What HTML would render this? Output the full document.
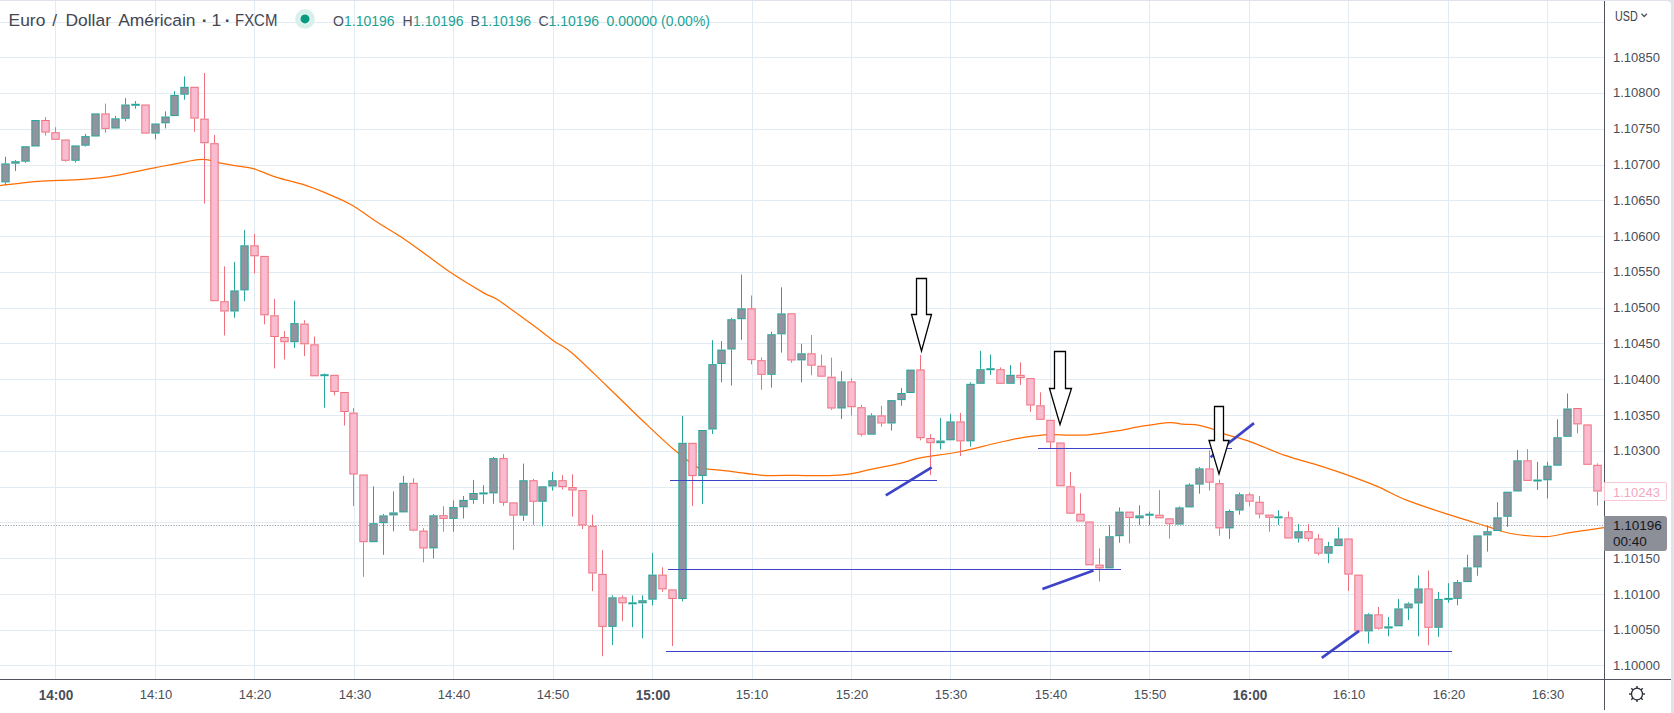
<!DOCTYPE html>
<html><head><meta charset="utf-8">
<style>
html,body{margin:0;padding:0;}
body{width:1674px;height:713px;overflow:hidden;background:#e0e3eb;position:relative;font-family:"Liberation Sans",sans-serif;}
#frame{position:absolute;left:0;top:1px;width:1671px;height:712px;background:#fff;border-top-right-radius:4px;overflow:hidden;}
svg{position:absolute;left:0;top:0;}
.pl{position:absolute;left:1613px;width:60px;font-size:13.7px;transform:scaleX(0.95);transform-origin:0 0;line-height:16px;color:#4a4e59;white-space:pre;}
.tl{position:absolute;top:686.8px;width:60px;text-align:center;font-size:13.7px;transform:scaleX(0.95);line-height:16px;color:#4a4e59;white-space:pre;}
.tl.b{font-weight:bold;font-size:14px;transform:scaleX(0.97);}
.hdr{position:absolute;white-space:pre;}
.t{top:10px;font-size:17.4px;line-height:20px;color:#434651;}
</style></head><body>
<div id="frame"></div>
<svg width="1674" height="713" viewBox="0 0 1674 713" shape-rendering="auto">
<rect x="55" y="1" width="1" height="678" fill="#e3ebf2"/>
<rect x="155" y="1" width="1" height="678" fill="#e3ebf2"/>
<rect x="254" y="1" width="1" height="678" fill="#e3ebf2"/>
<rect x="354" y="1" width="1" height="678" fill="#e3ebf2"/>
<rect x="453" y="1" width="1" height="678" fill="#e3ebf2"/>
<rect x="553" y="1" width="1" height="678" fill="#e3ebf2"/>
<rect x="652" y="1" width="1" height="678" fill="#e3ebf2"/>
<rect x="752" y="1" width="1" height="678" fill="#e3ebf2"/>
<rect x="851" y="1" width="1" height="678" fill="#e3ebf2"/>
<rect x="950" y="1" width="1" height="678" fill="#e3ebf2"/>
<rect x="1050" y="1" width="1" height="678" fill="#e3ebf2"/>
<rect x="1149" y="1" width="1" height="678" fill="#e3ebf2"/>
<rect x="1249" y="1" width="1" height="678" fill="#e3ebf2"/>
<rect x="1348" y="1" width="1" height="678" fill="#e3ebf2"/>
<rect x="1448" y="1" width="1" height="678" fill="#e3ebf2"/>
<rect x="1547" y="1" width="1" height="678" fill="#e3ebf2"/>
<rect x="0" y="22" width="1604" height="1" fill="#e3ebf2"/>
<rect x="0" y="57" width="1604" height="1" fill="#e3ebf2"/>
<rect x="0" y="93" width="1604" height="1" fill="#e3ebf2"/>
<rect x="0" y="129" width="1604" height="1" fill="#e3ebf2"/>
<rect x="0" y="165" width="1604" height="1" fill="#e3ebf2"/>
<rect x="0" y="200" width="1604" height="1" fill="#e3ebf2"/>
<rect x="0" y="236" width="1604" height="1" fill="#e3ebf2"/>
<rect x="0" y="272" width="1604" height="1" fill="#e3ebf2"/>
<rect x="0" y="308" width="1604" height="1" fill="#e3ebf2"/>
<rect x="0" y="343" width="1604" height="1" fill="#e3ebf2"/>
<rect x="0" y="379" width="1604" height="1" fill="#e3ebf2"/>
<rect x="0" y="415" width="1604" height="1" fill="#e3ebf2"/>
<rect x="0" y="451" width="1604" height="1" fill="#e3ebf2"/>
<rect x="0" y="487" width="1604" height="1" fill="#e3ebf2"/>
<rect x="0" y="522" width="1604" height="1" fill="#e3ebf2"/>
<rect x="0" y="558" width="1604" height="1" fill="#e3ebf2"/>
<rect x="0" y="594" width="1604" height="1" fill="#e3ebf2"/>
<rect x="0" y="630" width="1604" height="1" fill="#e3ebf2"/>
<rect x="0" y="665" width="1604" height="1" fill="#e3ebf2"/>
<line x1="0" y1="525.5" x2="1604" y2="525.5" stroke="#9598a1" stroke-width="1" stroke-dasharray="1 1.67"/>
<path d="M0.0,185.7 C6.3,185.0 23.8,182.4 37.6,181.4 C51.4,180.4 69.8,180.4 82.8,179.4 C95.8,178.4 103.3,177.6 115.4,175.6 C127.5,173.6 143.8,169.9 155.5,167.6 C167.2,165.3 177.6,163.2 185.6,161.8 C193.6,160.4 197.8,159.1 203.7,159.3 C209.6,159.5 215.0,162.0 220.8,163.1 C226.6,164.2 232.9,165.2 238.3,166.1 C243.7,167.0 247.1,166.8 253.4,168.6 C259.7,170.4 267.6,174.4 276.0,177.1 C284.4,179.8 295.2,182.0 303.6,184.7 C312.0,187.4 318.2,189.9 326.1,193.2 C334.0,196.5 342.8,200.0 351.2,204.7 C359.6,209.4 368.2,216.2 376.3,221.5 C384.4,226.8 392.6,231.4 400.0,236.3 C407.4,241.2 412.2,244.8 421.0,251.0 C429.8,257.2 442.1,266.8 452.6,273.8 C463.1,280.8 476.5,288.7 484.1,293.1 C491.7,297.5 489.9,294.7 498.1,300.1 C506.3,305.5 524.1,318.6 533.2,325.3 C542.4,332.0 546.6,335.9 553.0,340.5 C559.4,345.1 562.7,345.1 571.7,352.7 C580.7,360.3 595.1,374.8 606.8,386.0 C618.5,397.2 630.8,409.5 641.9,420.0 C653.0,430.5 664.1,441.2 673.4,449.1 C682.7,457.0 692.4,464.3 697.9,467.6 C703.4,470.9 700.8,468.1 706.5,468.8 C712.2,469.5 723.0,470.5 732.3,471.6 C741.6,472.7 751.6,474.7 762.4,475.3 C773.1,475.9 785.7,475.2 796.8,475.3 C807.9,475.4 820.0,475.9 829.0,475.7 C838.0,475.4 843.3,474.9 850.5,473.8 C857.7,472.7 863.8,470.9 872.0,469.2 C880.2,467.5 891.8,465.3 900.0,463.4 C908.2,461.5 911.8,459.5 921.5,457.6 C931.2,455.7 945.6,454.4 958.1,452.0 C970.6,449.6 986.0,445.4 996.8,443.0 C1007.5,440.6 1014.7,439.0 1022.6,437.6 C1030.5,436.2 1039.0,435.3 1044.1,434.8 C1049.2,434.3 1048.1,434.6 1053.3,434.6 C1058.5,434.7 1069.2,435.1 1075.1,435.1 C1081.0,435.1 1081.5,435.5 1088.5,434.8 C1095.5,434.1 1108.0,432.3 1116.9,430.9 C1125.8,429.5 1133.2,427.6 1142.0,426.2 C1150.8,424.8 1162.9,422.9 1169.6,422.6 C1176.3,422.3 1177.8,423.9 1182.1,424.2 C1186.4,424.5 1190.8,424.0 1195.5,424.7 C1200.2,425.4 1205.6,426.8 1210.6,428.4 C1215.6,430.0 1218.9,432.1 1225.6,434.3 C1232.3,436.5 1240.9,438.3 1250.7,441.8 C1260.5,445.3 1272.7,451.2 1284.2,455.2 C1295.8,459.2 1309.4,462.6 1320.0,465.9 C1330.6,469.2 1338.2,471.7 1347.7,475.1 C1357.2,478.5 1367.4,482.2 1377.2,486.4 C1387.0,490.6 1394.8,495.5 1406.6,500.2 C1418.4,504.9 1434.9,510.1 1448.2,514.4 C1461.5,518.7 1475.9,523.0 1486.3,526.2 C1496.7,529.4 1500.8,531.8 1510.6,533.5 C1520.4,535.2 1535.1,536.8 1545.2,536.6 C1555.3,536.4 1561.4,533.8 1571.2,532.3 C1581.0,530.8 1598.6,528.4 1604.1,527.6" fill="none" stroke="#ff6d00" stroke-width="1.25" stroke-linejoin="round"/>
<rect x="5.00" y="156.6" width="1" height="6.8" fill="#26a69a"/>
<rect x="5.00" y="182.4" width="1" height="2.8" fill="#26a69a"/>
<rect x="1.30" y="163.4" width="8.4" height="19.0" fill="#26a69a"/>
<rect x="2.30" y="164.4" width="6.4" height="17.0" fill="#92939e"/>
<rect x="15.00" y="160.0" width="1" height="1.2" fill="#26a69a"/>
<rect x="15.00" y="163.7" width="1" height="7.3" fill="#26a69a"/>
<rect x="11.30" y="161.2" width="8.4" height="2.5" fill="#26a69a"/>
<rect x="12.30" y="162.2" width="6.4" height="0.5" fill="#92939e"/>
<rect x="25.00" y="161.7" width="1" height="1.2" fill="#26a69a"/>
<rect x="21.30" y="146.2" width="8.4" height="15.5" fill="#26a69a"/>
<rect x="22.30" y="147.2" width="6.4" height="13.5" fill="#92939e"/>
<rect x="31.30" y="120.0" width="8.4" height="26.5" fill="#26a69a"/>
<rect x="32.30" y="121.0" width="6.4" height="24.5" fill="#92939e"/>
<rect x="45.00" y="117.1" width="1" height="2.9" fill="#ef6f7c"/>
<rect x="45.00" y="132.6" width="1" height="3.0" fill="#ef6f7c"/>
<rect x="41.30" y="120.0" width="8.4" height="12.6" fill="#ef6f7c"/>
<rect x="42.30" y="121.0" width="6.4" height="10.6" fill="#f8bbd0"/>
<rect x="55.00" y="127.2" width="1" height="5.0" fill="#ef6f7c"/>
<rect x="51.30" y="132.2" width="8.4" height="7.6" fill="#ef6f7c"/>
<rect x="52.30" y="133.2" width="6.4" height="5.6" fill="#f8bbd0"/>
<rect x="65.00" y="160.8" width="1" height="0.9" fill="#ef6f7c"/>
<rect x="61.30" y="139.5" width="8.4" height="21.3" fill="#ef6f7c"/>
<rect x="62.30" y="140.5" width="6.4" height="19.3" fill="#f8bbd0"/>
<rect x="75.00" y="160.8" width="1" height="1.7" fill="#26a69a"/>
<rect x="71.30" y="145.4" width="8.4" height="15.4" fill="#26a69a"/>
<rect x="72.30" y="146.4" width="6.4" height="13.4" fill="#92939e"/>
<rect x="85.00" y="133.9" width="1" height="2.2" fill="#26a69a"/>
<rect x="85.00" y="145.7" width="1" height="0.8" fill="#26a69a"/>
<rect x="81.30" y="136.1" width="8.4" height="9.6" fill="#26a69a"/>
<rect x="82.30" y="137.1" width="6.4" height="7.6" fill="#92939e"/>
<rect x="91.30" y="113.4" width="8.4" height="23.1" fill="#26a69a"/>
<rect x="92.30" y="114.4" width="6.4" height="21.1" fill="#92939e"/>
<rect x="105.00" y="103.6" width="1" height="9.8" fill="#ef6f7c"/>
<rect x="105.00" y="128.9" width="1" height="3.9" fill="#ef6f7c"/>
<rect x="101.30" y="113.4" width="8.4" height="15.5" fill="#ef6f7c"/>
<rect x="102.30" y="114.4" width="6.4" height="13.5" fill="#f8bbd0"/>
<rect x="115.00" y="115.9" width="1" height="2.4" fill="#26a69a"/>
<rect x="111.30" y="118.3" width="8.4" height="10.2" fill="#26a69a"/>
<rect x="112.30" y="119.3" width="6.4" height="8.2" fill="#92939e"/>
<rect x="125.00" y="98.1" width="1" height="6.4" fill="#26a69a"/>
<rect x="125.00" y="118.8" width="1" height="2.5" fill="#26a69a"/>
<rect x="121.30" y="104.5" width="8.4" height="14.3" fill="#26a69a"/>
<rect x="122.30" y="105.5" width="6.4" height="12.3" fill="#92939e"/>
<rect x="135.00" y="101.1" width="1" height="2.7" fill="#26a69a"/>
<rect x="135.00" y="105.8" width="1" height="2.9" fill="#26a69a"/>
<rect x="131.30" y="103.8" width="8.4" height="2.0" fill="#26a69a"/>
<rect x="141.30" y="104.5" width="8.4" height="29.1" fill="#ef6f7c"/>
<rect x="142.30" y="105.5" width="6.4" height="27.1" fill="#f8bbd0"/>
<rect x="155.00" y="133.6" width="1" height="5.7" fill="#26a69a"/>
<rect x="151.30" y="123.5" width="8.4" height="10.1" fill="#26a69a"/>
<rect x="152.30" y="124.5" width="6.4" height="8.1" fill="#92939e"/>
<rect x="165.00" y="111.4" width="1" height="5.1" fill="#26a69a"/>
<rect x="165.00" y="123.3" width="1" height="5.1" fill="#26a69a"/>
<rect x="161.30" y="116.5" width="8.4" height="6.8" fill="#26a69a"/>
<rect x="162.30" y="117.5" width="6.4" height="4.8" fill="#92939e"/>
<rect x="174.00" y="91.1" width="1" height="3.8" fill="#26a69a"/>
<rect x="170.30" y="94.9" width="8.4" height="21.2" fill="#26a69a"/>
<rect x="171.30" y="95.9" width="6.4" height="19.2" fill="#92939e"/>
<rect x="184.00" y="76.4" width="1" height="10.4" fill="#26a69a"/>
<rect x="184.00" y="94.7" width="1" height="5.0" fill="#26a69a"/>
<rect x="180.30" y="86.8" width="8.4" height="7.9" fill="#26a69a"/>
<rect x="181.30" y="87.8" width="6.4" height="5.9" fill="#92939e"/>
<rect x="194.00" y="118.6" width="1" height="13.1" fill="#ef6f7c"/>
<rect x="190.30" y="86.8" width="8.4" height="31.8" fill="#ef6f7c"/>
<rect x="191.30" y="87.8" width="6.4" height="29.8" fill="#f8bbd0"/>
<rect x="204.00" y="73.0" width="1" height="45.6" fill="#ef6f7c"/>
<rect x="204.00" y="143.2" width="1" height="60.2" fill="#ef6f7c"/>
<rect x="200.30" y="118.6" width="8.4" height="24.6" fill="#ef6f7c"/>
<rect x="201.30" y="119.6" width="6.4" height="22.6" fill="#f8bbd0"/>
<rect x="214.00" y="135.0" width="1" height="8.2" fill="#ef6f7c"/>
<rect x="210.30" y="143.2" width="8.4" height="158.0" fill="#ef6f7c"/>
<rect x="211.30" y="144.2" width="6.4" height="156.0" fill="#f8bbd0"/>
<rect x="224.00" y="266.4" width="1" height="34.8" fill="#ef6f7c"/>
<rect x="224.00" y="311.5" width="1" height="24.0" fill="#ef6f7c"/>
<rect x="220.30" y="301.2" width="8.4" height="10.3" fill="#ef6f7c"/>
<rect x="221.30" y="302.2" width="6.4" height="8.3" fill="#f8bbd0"/>
<rect x="234.00" y="261.9" width="1" height="28.5" fill="#26a69a"/>
<rect x="234.00" y="311.5" width="1" height="6.3" fill="#26a69a"/>
<rect x="230.30" y="290.4" width="8.4" height="21.1" fill="#26a69a"/>
<rect x="231.30" y="291.4" width="6.4" height="19.1" fill="#92939e"/>
<rect x="244.00" y="230.1" width="1" height="15.2" fill="#26a69a"/>
<rect x="244.00" y="290.4" width="1" height="10.8" fill="#26a69a"/>
<rect x="240.30" y="245.3" width="8.4" height="45.1" fill="#26a69a"/>
<rect x="241.30" y="246.3" width="6.4" height="43.1" fill="#92939e"/>
<rect x="254.00" y="233.9" width="1" height="11.4" fill="#ef6f7c"/>
<rect x="254.00" y="256.3" width="1" height="17.1" fill="#ef6f7c"/>
<rect x="250.30" y="245.3" width="8.4" height="11.0" fill="#ef6f7c"/>
<rect x="251.30" y="246.3" width="6.4" height="9.0" fill="#f8bbd0"/>
<rect x="264.00" y="315.3" width="1" height="9.0" fill="#ef6f7c"/>
<rect x="260.30" y="255.9" width="8.4" height="59.4" fill="#ef6f7c"/>
<rect x="261.30" y="256.9" width="6.4" height="57.4" fill="#f8bbd0"/>
<rect x="274.00" y="298.9" width="1" height="16.4" fill="#ef6f7c"/>
<rect x="274.00" y="337.0" width="1" height="31.4" fill="#ef6f7c"/>
<rect x="270.30" y="315.3" width="8.4" height="21.7" fill="#ef6f7c"/>
<rect x="271.30" y="316.3" width="6.4" height="19.7" fill="#f8bbd0"/>
<rect x="284.00" y="331.0" width="1" height="6.0" fill="#ef6f7c"/>
<rect x="284.00" y="342.2" width="1" height="17.3" fill="#ef6f7c"/>
<rect x="280.30" y="337.0" width="8.4" height="5.2" fill="#ef6f7c"/>
<rect x="281.30" y="338.0" width="6.4" height="3.2" fill="#f8bbd0"/>
<rect x="294.00" y="300.7" width="1" height="22.4" fill="#26a69a"/>
<rect x="294.00" y="342.2" width="1" height="5.6" fill="#26a69a"/>
<rect x="290.30" y="323.1" width="8.4" height="19.1" fill="#26a69a"/>
<rect x="291.30" y="324.1" width="6.4" height="17.1" fill="#92939e"/>
<rect x="304.00" y="320.3" width="1" height="3.3" fill="#ef6f7c"/>
<rect x="304.00" y="344.3" width="1" height="11.8" fill="#ef6f7c"/>
<rect x="300.30" y="323.6" width="8.4" height="20.7" fill="#ef6f7c"/>
<rect x="301.30" y="324.6" width="6.4" height="18.7" fill="#f8bbd0"/>
<rect x="314.00" y="336.6" width="1" height="7.7" fill="#ef6f7c"/>
<rect x="310.30" y="344.3" width="8.4" height="32.0" fill="#ef6f7c"/>
<rect x="311.30" y="345.3" width="6.4" height="30.0" fill="#f8bbd0"/>
<rect x="324.00" y="373.4" width="1" height="0.8" fill="#26a69a"/>
<rect x="324.00" y="376.2" width="1" height="31.5" fill="#26a69a"/>
<rect x="320.30" y="374.2" width="8.4" height="2.0" fill="#26a69a"/>
<rect x="334.00" y="392.0" width="1" height="3.4" fill="#ef6f7c"/>
<rect x="330.30" y="374.8" width="8.4" height="17.2" fill="#ef6f7c"/>
<rect x="331.30" y="375.8" width="6.4" height="15.2" fill="#f8bbd0"/>
<rect x="344.00" y="412.0" width="1" height="13.5" fill="#ef6f7c"/>
<rect x="340.30" y="392.0" width="8.4" height="20.0" fill="#ef6f7c"/>
<rect x="341.30" y="393.0" width="6.4" height="18.0" fill="#f8bbd0"/>
<rect x="353.00" y="408.1" width="1" height="4.5" fill="#ef6f7c"/>
<rect x="353.00" y="474.5" width="1" height="31.5" fill="#ef6f7c"/>
<rect x="349.30" y="412.6" width="8.4" height="61.9" fill="#ef6f7c"/>
<rect x="350.30" y="413.6" width="6.4" height="59.9" fill="#f8bbd0"/>
<rect x="363.00" y="542.2" width="1" height="34.6" fill="#ef6f7c"/>
<rect x="359.30" y="474.5" width="8.4" height="67.7" fill="#ef6f7c"/>
<rect x="360.30" y="475.5" width="6.4" height="65.7" fill="#f8bbd0"/>
<rect x="373.00" y="486.4" width="1" height="36.8" fill="#26a69a"/>
<rect x="369.30" y="523.2" width="8.4" height="19.0" fill="#26a69a"/>
<rect x="370.30" y="524.2" width="6.4" height="17.0" fill="#92939e"/>
<rect x="383.00" y="514.0" width="1" height="1.4" fill="#26a69a"/>
<rect x="383.00" y="523.2" width="1" height="31.6" fill="#26a69a"/>
<rect x="379.30" y="515.4" width="8.4" height="7.8" fill="#26a69a"/>
<rect x="380.30" y="516.4" width="6.4" height="5.8" fill="#92939e"/>
<rect x="393.00" y="491.4" width="1" height="21.0" fill="#26a69a"/>
<rect x="393.00" y="515.4" width="1" height="15.9" fill="#26a69a"/>
<rect x="389.30" y="512.4" width="8.4" height="3.0" fill="#26a69a"/>
<rect x="390.30" y="513.4" width="6.4" height="1.0" fill="#92939e"/>
<rect x="403.00" y="475.8" width="1" height="7.0" fill="#26a69a"/>
<rect x="399.30" y="482.8" width="8.4" height="29.6" fill="#26a69a"/>
<rect x="400.30" y="483.8" width="6.4" height="27.6" fill="#92939e"/>
<rect x="413.00" y="478.3" width="1" height="4.5" fill="#ef6f7c"/>
<rect x="413.00" y="530.6" width="1" height="0.7" fill="#ef6f7c"/>
<rect x="409.30" y="482.8" width="8.4" height="47.8" fill="#ef6f7c"/>
<rect x="410.30" y="483.8" width="6.4" height="45.8" fill="#f8bbd0"/>
<rect x="423.00" y="528.3" width="1" height="2.3" fill="#ef6f7c"/>
<rect x="423.00" y="548.5" width="1" height="13.9" fill="#ef6f7c"/>
<rect x="419.30" y="530.6" width="8.4" height="17.9" fill="#ef6f7c"/>
<rect x="420.30" y="531.6" width="6.4" height="15.9" fill="#f8bbd0"/>
<rect x="433.00" y="514.0" width="1" height="1.3" fill="#26a69a"/>
<rect x="433.00" y="548.4" width="1" height="10.1" fill="#26a69a"/>
<rect x="429.30" y="515.3" width="8.4" height="33.1" fill="#26a69a"/>
<rect x="430.30" y="516.3" width="6.4" height="31.1" fill="#92939e"/>
<rect x="443.00" y="506.2" width="1" height="9.0" fill="#ef6f7c"/>
<rect x="443.00" y="518.9" width="1" height="12.8" fill="#ef6f7c"/>
<rect x="439.30" y="515.2" width="8.4" height="3.7" fill="#ef6f7c"/>
<rect x="440.30" y="516.2" width="6.4" height="1.7" fill="#f8bbd0"/>
<rect x="453.00" y="500.5" width="1" height="6.6" fill="#26a69a"/>
<rect x="453.00" y="518.9" width="1" height="12.8" fill="#26a69a"/>
<rect x="449.30" y="507.1" width="8.4" height="11.8" fill="#26a69a"/>
<rect x="450.30" y="508.1" width="6.4" height="9.8" fill="#92939e"/>
<rect x="463.00" y="496.0" width="1" height="3.9" fill="#26a69a"/>
<rect x="463.00" y="507.3" width="1" height="11.2" fill="#26a69a"/>
<rect x="459.30" y="499.9" width="8.4" height="7.4" fill="#26a69a"/>
<rect x="460.30" y="500.9" width="6.4" height="5.4" fill="#92939e"/>
<rect x="473.00" y="479.9" width="1" height="13.1" fill="#26a69a"/>
<rect x="473.00" y="499.9" width="1" height="3.9" fill="#26a69a"/>
<rect x="469.30" y="493.0" width="8.4" height="6.9" fill="#26a69a"/>
<rect x="470.30" y="494.0" width="6.4" height="4.9" fill="#92939e"/>
<rect x="483.00" y="485.2" width="1" height="7.2" fill="#26a69a"/>
<rect x="483.00" y="494.4" width="1" height="9.4" fill="#26a69a"/>
<rect x="479.30" y="492.4" width="8.4" height="2.0" fill="#26a69a"/>
<rect x="493.00" y="457.0" width="1" height="1.1" fill="#26a69a"/>
<rect x="493.00" y="493.4" width="1" height="10.4" fill="#26a69a"/>
<rect x="489.30" y="458.1" width="8.4" height="35.3" fill="#26a69a"/>
<rect x="490.30" y="459.1" width="6.4" height="33.3" fill="#92939e"/>
<rect x="503.00" y="454.1" width="1" height="4.0" fill="#ef6f7c"/>
<rect x="503.00" y="502.8" width="1" height="3.0" fill="#ef6f7c"/>
<rect x="499.30" y="458.1" width="8.4" height="44.7" fill="#ef6f7c"/>
<rect x="500.30" y="459.1" width="6.4" height="42.7" fill="#f8bbd0"/>
<rect x="513.00" y="515.6" width="1" height="34.3" fill="#ef6f7c"/>
<rect x="509.30" y="502.4" width="8.4" height="13.2" fill="#ef6f7c"/>
<rect x="510.30" y="503.4" width="6.4" height="11.2" fill="#f8bbd0"/>
<rect x="523.00" y="463.6" width="1" height="16.6" fill="#26a69a"/>
<rect x="523.00" y="515.6" width="1" height="5.3" fill="#26a69a"/>
<rect x="519.30" y="480.2" width="8.4" height="35.4" fill="#26a69a"/>
<rect x="520.30" y="481.2" width="6.4" height="33.4" fill="#92939e"/>
<rect x="533.00" y="478.9" width="1" height="1.3" fill="#ef6f7c"/>
<rect x="533.00" y="501.8" width="1" height="23.0" fill="#ef6f7c"/>
<rect x="529.30" y="480.2" width="8.4" height="21.6" fill="#ef6f7c"/>
<rect x="530.30" y="481.2" width="6.4" height="19.6" fill="#f8bbd0"/>
<rect x="542.00" y="501.8" width="1" height="24.6" fill="#26a69a"/>
<rect x="538.30" y="486.3" width="8.4" height="15.5" fill="#26a69a"/>
<rect x="539.30" y="487.3" width="6.4" height="13.5" fill="#92939e"/>
<rect x="552.00" y="471.8" width="1" height="8.4" fill="#26a69a"/>
<rect x="552.00" y="486.5" width="1" height="4.1" fill="#26a69a"/>
<rect x="548.30" y="480.2" width="8.4" height="6.3" fill="#26a69a"/>
<rect x="549.30" y="481.2" width="6.4" height="4.3" fill="#92939e"/>
<rect x="562.00" y="475.3" width="1" height="4.9" fill="#ef6f7c"/>
<rect x="562.00" y="487.1" width="1" height="2.4" fill="#ef6f7c"/>
<rect x="558.30" y="480.2" width="8.4" height="6.9" fill="#ef6f7c"/>
<rect x="559.30" y="481.2" width="6.4" height="4.9" fill="#f8bbd0"/>
<rect x="572.00" y="474.4" width="1" height="12.7" fill="#ef6f7c"/>
<rect x="572.00" y="490.5" width="1" height="26.1" fill="#ef6f7c"/>
<rect x="568.30" y="487.1" width="8.4" height="3.4" fill="#ef6f7c"/>
<rect x="569.30" y="488.1" width="6.4" height="1.4" fill="#f8bbd0"/>
<rect x="582.00" y="525.5" width="1" height="3.5" fill="#ef6f7c"/>
<rect x="578.30" y="490.1" width="8.4" height="35.4" fill="#ef6f7c"/>
<rect x="579.30" y="491.1" width="6.4" height="33.4" fill="#f8bbd0"/>
<rect x="592.00" y="514.8" width="1" height="11.0" fill="#ef6f7c"/>
<rect x="592.00" y="573.5" width="1" height="17.6" fill="#ef6f7c"/>
<rect x="588.30" y="525.8" width="8.4" height="47.7" fill="#ef6f7c"/>
<rect x="589.30" y="526.8" width="6.4" height="45.7" fill="#f8bbd0"/>
<rect x="602.00" y="550.1" width="1" height="23.8" fill="#ef6f7c"/>
<rect x="602.00" y="626.9" width="1" height="29.3" fill="#ef6f7c"/>
<rect x="598.30" y="573.9" width="8.4" height="53.0" fill="#ef6f7c"/>
<rect x="599.30" y="574.9" width="6.4" height="51.0" fill="#f8bbd0"/>
<rect x="612.00" y="595.4" width="1" height="1.9" fill="#26a69a"/>
<rect x="612.00" y="626.9" width="1" height="18.1" fill="#26a69a"/>
<rect x="608.30" y="597.3" width="8.4" height="29.6" fill="#26a69a"/>
<rect x="609.30" y="598.3" width="6.4" height="27.6" fill="#92939e"/>
<rect x="622.00" y="595.4" width="1" height="1.9" fill="#ef6f7c"/>
<rect x="622.00" y="603.3" width="1" height="17.6" fill="#ef6f7c"/>
<rect x="618.30" y="597.3" width="8.4" height="6.0" fill="#ef6f7c"/>
<rect x="619.30" y="598.3" width="6.4" height="4.0" fill="#f8bbd0"/>
<rect x="632.00" y="595.4" width="1" height="6.9" fill="#26a69a"/>
<rect x="632.00" y="604.3" width="1" height="22.8" fill="#26a69a"/>
<rect x="628.30" y="602.3" width="8.4" height="2.0" fill="#26a69a"/>
<rect x="642.00" y="595.4" width="1" height="4.8" fill="#26a69a"/>
<rect x="642.00" y="603.3" width="1" height="35.0" fill="#26a69a"/>
<rect x="638.30" y="600.2" width="8.4" height="3.1" fill="#26a69a"/>
<rect x="639.30" y="601.2" width="6.4" height="1.1" fill="#92939e"/>
<rect x="652.00" y="552.9" width="1" height="21.7" fill="#26a69a"/>
<rect x="652.00" y="599.7" width="1" height="5.7" fill="#26a69a"/>
<rect x="648.30" y="574.6" width="8.4" height="25.1" fill="#26a69a"/>
<rect x="649.30" y="575.6" width="6.4" height="23.1" fill="#92939e"/>
<rect x="662.00" y="567.3" width="1" height="7.3" fill="#ef6f7c"/>
<rect x="662.00" y="589.4" width="1" height="2.4" fill="#ef6f7c"/>
<rect x="658.30" y="574.6" width="8.4" height="14.8" fill="#ef6f7c"/>
<rect x="659.30" y="575.6" width="6.4" height="12.8" fill="#f8bbd0"/>
<rect x="672.00" y="599.0" width="1" height="47.0" fill="#ef6f7c"/>
<rect x="668.30" y="589.4" width="8.4" height="9.6" fill="#ef6f7c"/>
<rect x="669.30" y="590.4" width="6.4" height="7.6" fill="#f8bbd0"/>
<rect x="682.00" y="415.9" width="1" height="26.9" fill="#26a69a"/>
<rect x="682.00" y="599.0" width="1" height="2.4" fill="#26a69a"/>
<rect x="678.30" y="442.8" width="8.4" height="156.2" fill="#26a69a"/>
<rect x="679.30" y="443.8" width="6.4" height="154.2" fill="#92939e"/>
<rect x="692.00" y="476.1" width="1" height="29.9" fill="#ef6f7c"/>
<rect x="688.30" y="442.8" width="8.4" height="33.3" fill="#ef6f7c"/>
<rect x="689.30" y="443.8" width="6.4" height="31.3" fill="#f8bbd0"/>
<rect x="702.00" y="476.1" width="1" height="27.8" fill="#26a69a"/>
<rect x="698.30" y="430.0" width="8.4" height="46.1" fill="#26a69a"/>
<rect x="699.30" y="431.0" width="6.4" height="44.1" fill="#92939e"/>
<rect x="712.00" y="340.1" width="1" height="24.0" fill="#26a69a"/>
<rect x="712.00" y="429.5" width="1" height="4.5" fill="#26a69a"/>
<rect x="708.30" y="364.1" width="8.4" height="65.4" fill="#26a69a"/>
<rect x="709.30" y="365.1" width="6.4" height="63.4" fill="#92939e"/>
<rect x="721.00" y="341.1" width="1" height="8.5" fill="#26a69a"/>
<rect x="721.00" y="364.0" width="1" height="18.3" fill="#26a69a"/>
<rect x="717.30" y="349.6" width="8.4" height="14.4" fill="#26a69a"/>
<rect x="718.30" y="350.6" width="6.4" height="12.4" fill="#92939e"/>
<rect x="731.00" y="317.8" width="1" height="1.4" fill="#26a69a"/>
<rect x="731.00" y="349.5" width="1" height="36.1" fill="#26a69a"/>
<rect x="727.30" y="319.2" width="8.4" height="30.3" fill="#26a69a"/>
<rect x="728.30" y="320.2" width="6.4" height="28.3" fill="#92939e"/>
<rect x="741.00" y="274.6" width="1" height="33.7" fill="#26a69a"/>
<rect x="741.00" y="319.2" width="1" height="20.6" fill="#26a69a"/>
<rect x="737.30" y="308.3" width="8.4" height="10.9" fill="#26a69a"/>
<rect x="738.30" y="309.3" width="6.4" height="8.9" fill="#92939e"/>
<rect x="751.00" y="295.5" width="1" height="12.8" fill="#ef6f7c"/>
<rect x="751.00" y="360.2" width="1" height="4.2" fill="#ef6f7c"/>
<rect x="747.30" y="308.3" width="8.4" height="51.9" fill="#ef6f7c"/>
<rect x="748.30" y="309.3" width="6.4" height="49.9" fill="#f8bbd0"/>
<rect x="761.00" y="357.5" width="1" height="2.7" fill="#ef6f7c"/>
<rect x="761.00" y="374.8" width="1" height="15.0" fill="#ef6f7c"/>
<rect x="757.30" y="360.2" width="8.4" height="14.6" fill="#ef6f7c"/>
<rect x="758.30" y="361.2" width="6.4" height="12.6" fill="#f8bbd0"/>
<rect x="771.00" y="331.6" width="1" height="2.6" fill="#26a69a"/>
<rect x="771.00" y="374.8" width="1" height="12.8" fill="#26a69a"/>
<rect x="767.30" y="334.2" width="8.4" height="40.6" fill="#26a69a"/>
<rect x="768.30" y="335.2" width="6.4" height="38.6" fill="#92939e"/>
<rect x="781.00" y="287.3" width="1" height="26.1" fill="#26a69a"/>
<rect x="781.00" y="334.3" width="1" height="18.3" fill="#26a69a"/>
<rect x="777.30" y="313.4" width="8.4" height="20.9" fill="#26a69a"/>
<rect x="778.30" y="314.4" width="6.4" height="18.9" fill="#92939e"/>
<rect x="791.00" y="360.5" width="1" height="2.2" fill="#ef6f7c"/>
<rect x="787.30" y="313.3" width="8.4" height="47.2" fill="#ef6f7c"/>
<rect x="788.30" y="314.3" width="6.4" height="45.2" fill="#f8bbd0"/>
<rect x="801.00" y="343.8" width="1" height="9.5" fill="#26a69a"/>
<rect x="801.00" y="360.4" width="1" height="22.0" fill="#26a69a"/>
<rect x="797.30" y="353.3" width="8.4" height="7.1" fill="#26a69a"/>
<rect x="798.30" y="354.3" width="6.4" height="5.1" fill="#92939e"/>
<rect x="811.00" y="335.0" width="1" height="18.3" fill="#ef6f7c"/>
<rect x="811.00" y="365.7" width="1" height="9.6" fill="#ef6f7c"/>
<rect x="807.30" y="353.3" width="8.4" height="12.4" fill="#ef6f7c"/>
<rect x="808.30" y="354.3" width="6.4" height="10.4" fill="#f8bbd0"/>
<rect x="821.00" y="354.5" width="1" height="11.2" fill="#ef6f7c"/>
<rect x="817.30" y="365.7" width="8.4" height="11.0" fill="#ef6f7c"/>
<rect x="818.30" y="366.7" width="6.4" height="9.0" fill="#f8bbd0"/>
<rect x="831.00" y="357.6" width="1" height="19.1" fill="#ef6f7c"/>
<rect x="831.00" y="408.5" width="1" height="1.4" fill="#ef6f7c"/>
<rect x="827.30" y="376.7" width="8.4" height="31.8" fill="#ef6f7c"/>
<rect x="828.30" y="377.7" width="6.4" height="29.8" fill="#f8bbd0"/>
<rect x="841.00" y="371.2" width="1" height="10.2" fill="#26a69a"/>
<rect x="841.00" y="408.5" width="1" height="10.5" fill="#26a69a"/>
<rect x="837.30" y="381.4" width="8.4" height="27.1" fill="#26a69a"/>
<rect x="838.30" y="382.4" width="6.4" height="25.1" fill="#92939e"/>
<rect x="851.00" y="378.3" width="1" height="3.1" fill="#ef6f7c"/>
<rect x="851.00" y="407.2" width="1" height="8.4" fill="#ef6f7c"/>
<rect x="847.30" y="381.4" width="8.4" height="25.8" fill="#ef6f7c"/>
<rect x="848.30" y="382.4" width="6.4" height="23.8" fill="#f8bbd0"/>
<rect x="861.00" y="404.8" width="1" height="2.4" fill="#ef6f7c"/>
<rect x="861.00" y="434.7" width="1" height="1.6" fill="#ef6f7c"/>
<rect x="857.30" y="407.2" width="8.4" height="27.5" fill="#ef6f7c"/>
<rect x="858.30" y="408.2" width="6.4" height="25.5" fill="#f8bbd0"/>
<rect x="871.00" y="413.3" width="1" height="2.1" fill="#26a69a"/>
<rect x="867.30" y="415.4" width="8.4" height="19.3" fill="#26a69a"/>
<rect x="868.30" y="416.4" width="6.4" height="17.3" fill="#92939e"/>
<rect x="881.00" y="405.8" width="1" height="9.6" fill="#ef6f7c"/>
<rect x="881.00" y="423.5" width="1" height="3.1" fill="#ef6f7c"/>
<rect x="877.30" y="415.4" width="8.4" height="8.1" fill="#ef6f7c"/>
<rect x="878.30" y="416.4" width="6.4" height="6.1" fill="#f8bbd0"/>
<rect x="891.00" y="423.5" width="1" height="7.1" fill="#26a69a"/>
<rect x="887.30" y="400.1" width="8.4" height="23.4" fill="#26a69a"/>
<rect x="888.30" y="401.1" width="6.4" height="21.4" fill="#92939e"/>
<rect x="901.00" y="387.9" width="1" height="5.1" fill="#26a69a"/>
<rect x="901.00" y="400.1" width="1" height="5.7" fill="#26a69a"/>
<rect x="897.30" y="393.0" width="8.4" height="7.1" fill="#26a69a"/>
<rect x="898.30" y="394.0" width="6.4" height="5.1" fill="#92939e"/>
<rect x="906.30" y="369.6" width="8.4" height="23.4" fill="#26a69a"/>
<rect x="907.30" y="370.6" width="6.4" height="21.4" fill="#92939e"/>
<rect x="920.00" y="355.0" width="1" height="14.4" fill="#ef6f7c"/>
<rect x="920.00" y="438.2" width="1" height="2.1" fill="#ef6f7c"/>
<rect x="916.30" y="369.4" width="8.4" height="68.8" fill="#ef6f7c"/>
<rect x="917.30" y="370.4" width="6.4" height="66.8" fill="#f8bbd0"/>
<rect x="930.00" y="434.2" width="1" height="3.8" fill="#ef6f7c"/>
<rect x="930.00" y="443.2" width="1" height="31.9" fill="#ef6f7c"/>
<rect x="926.30" y="438.0" width="8.4" height="5.2" fill="#ef6f7c"/>
<rect x="927.30" y="439.0" width="6.4" height="3.2" fill="#f8bbd0"/>
<rect x="940.00" y="417.9" width="1" height="22.6" fill="#26a69a"/>
<rect x="940.00" y="443.2" width="1" height="6.3" fill="#26a69a"/>
<rect x="936.30" y="440.5" width="8.4" height="2.7" fill="#26a69a"/>
<rect x="937.30" y="441.5" width="6.4" height="0.7" fill="#92939e"/>
<rect x="950.00" y="414.0" width="1" height="7.4" fill="#26a69a"/>
<rect x="946.30" y="421.4" width="8.4" height="18.9" fill="#26a69a"/>
<rect x="947.30" y="422.4" width="6.4" height="16.9" fill="#92939e"/>
<rect x="960.00" y="412.9" width="1" height="8.5" fill="#ef6f7c"/>
<rect x="960.00" y="441.4" width="1" height="14.6" fill="#ef6f7c"/>
<rect x="956.30" y="421.4" width="8.4" height="20.0" fill="#ef6f7c"/>
<rect x="957.30" y="422.4" width="6.4" height="18.0" fill="#f8bbd0"/>
<rect x="970.00" y="382.2" width="1" height="1.6" fill="#26a69a"/>
<rect x="970.00" y="441.4" width="1" height="5.2" fill="#26a69a"/>
<rect x="966.30" y="383.8" width="8.4" height="57.6" fill="#26a69a"/>
<rect x="967.30" y="384.8" width="6.4" height="55.6" fill="#92939e"/>
<rect x="980.00" y="350.8" width="1" height="18.4" fill="#26a69a"/>
<rect x="976.30" y="369.2" width="8.4" height="14.6" fill="#26a69a"/>
<rect x="977.30" y="370.2" width="6.4" height="12.6" fill="#92939e"/>
<rect x="990.00" y="354.6" width="1" height="13.6" fill="#26a69a"/>
<rect x="990.00" y="370.2" width="1" height="4.6" fill="#26a69a"/>
<rect x="986.30" y="368.2" width="8.4" height="2.0" fill="#26a69a"/>
<rect x="1000.00" y="367.4" width="1" height="1.8" fill="#ef6f7c"/>
<rect x="996.30" y="369.2" width="8.4" height="14.6" fill="#ef6f7c"/>
<rect x="997.30" y="370.2" width="6.4" height="12.6" fill="#f8bbd0"/>
<rect x="1010.00" y="365.1" width="1" height="9.7" fill="#26a69a"/>
<rect x="1006.30" y="374.8" width="8.4" height="9.0" fill="#26a69a"/>
<rect x="1007.30" y="375.8" width="6.4" height="7.0" fill="#92939e"/>
<rect x="1020.00" y="362.4" width="1" height="12.4" fill="#ef6f7c"/>
<rect x="1020.00" y="378.1" width="1" height="6.8" fill="#ef6f7c"/>
<rect x="1016.30" y="374.8" width="8.4" height="3.3" fill="#ef6f7c"/>
<rect x="1017.30" y="375.8" width="6.4" height="1.3" fill="#f8bbd0"/>
<rect x="1030.00" y="405.5" width="1" height="6.3" fill="#ef6f7c"/>
<rect x="1026.30" y="378.1" width="8.4" height="27.4" fill="#ef6f7c"/>
<rect x="1027.30" y="379.1" width="6.4" height="25.4" fill="#f8bbd0"/>
<rect x="1040.00" y="392.3" width="1" height="13.0" fill="#ef6f7c"/>
<rect x="1036.30" y="405.3" width="8.4" height="14.5" fill="#ef6f7c"/>
<rect x="1037.30" y="406.3" width="6.4" height="12.5" fill="#f8bbd0"/>
<rect x="1050.00" y="442.4" width="1" height="5.6" fill="#ef6f7c"/>
<rect x="1046.30" y="419.8" width="8.4" height="22.6" fill="#ef6f7c"/>
<rect x="1047.30" y="420.8" width="6.4" height="20.6" fill="#f8bbd0"/>
<rect x="1056.30" y="442.5" width="8.4" height="43.8" fill="#ef6f7c"/>
<rect x="1057.30" y="443.5" width="6.4" height="41.8" fill="#f8bbd0"/>
<rect x="1070.00" y="472.0" width="1" height="14.3" fill="#ef6f7c"/>
<rect x="1066.30" y="486.3" width="8.4" height="27.4" fill="#ef6f7c"/>
<rect x="1067.30" y="487.3" width="6.4" height="25.4" fill="#f8bbd0"/>
<rect x="1080.00" y="493.3" width="1" height="20.4" fill="#ef6f7c"/>
<rect x="1076.30" y="513.7" width="8.4" height="7.8" fill="#ef6f7c"/>
<rect x="1077.30" y="514.7" width="6.4" height="5.8" fill="#f8bbd0"/>
<rect x="1085.30" y="521.5" width="8.4" height="43.8" fill="#ef6f7c"/>
<rect x="1086.30" y="522.5" width="6.4" height="41.8" fill="#f8bbd0"/>
<rect x="1099.00" y="548.4" width="1" height="16.2" fill="#ef6f7c"/>
<rect x="1099.00" y="568.4" width="1" height="13.1" fill="#ef6f7c"/>
<rect x="1095.30" y="564.6" width="8.4" height="3.8" fill="#ef6f7c"/>
<rect x="1096.30" y="565.6" width="6.4" height="1.8" fill="#f8bbd0"/>
<rect x="1109.00" y="525.3" width="1" height="10.9" fill="#26a69a"/>
<rect x="1105.30" y="536.2" width="8.4" height="32.2" fill="#26a69a"/>
<rect x="1106.30" y="537.2" width="6.4" height="30.2" fill="#92939e"/>
<rect x="1119.00" y="507.4" width="1" height="4.2" fill="#26a69a"/>
<rect x="1119.00" y="536.2" width="1" height="6.5" fill="#26a69a"/>
<rect x="1115.30" y="511.6" width="8.4" height="24.6" fill="#26a69a"/>
<rect x="1116.30" y="512.6" width="6.4" height="22.6" fill="#92939e"/>
<rect x="1129.00" y="518.1" width="1" height="25.3" fill="#ef6f7c"/>
<rect x="1125.30" y="511.6" width="8.4" height="6.5" fill="#ef6f7c"/>
<rect x="1126.30" y="512.6" width="6.4" height="4.5" fill="#f8bbd0"/>
<rect x="1139.00" y="505.3" width="1" height="10.1" fill="#26a69a"/>
<rect x="1139.00" y="518.3" width="1" height="7.0" fill="#26a69a"/>
<rect x="1135.30" y="515.4" width="8.4" height="2.9" fill="#26a69a"/>
<rect x="1136.30" y="516.4" width="6.4" height="0.9" fill="#92939e"/>
<rect x="1149.00" y="511.6" width="1" height="2.1" fill="#26a69a"/>
<rect x="1149.00" y="515.7" width="1" height="9.6" fill="#26a69a"/>
<rect x="1145.30" y="513.7" width="8.4" height="2.0" fill="#26a69a"/>
<rect x="1159.00" y="490.1" width="1" height="24.6" fill="#ef6f7c"/>
<rect x="1155.30" y="514.7" width="8.4" height="3.6" fill="#ef6f7c"/>
<rect x="1156.30" y="515.7" width="6.4" height="1.6" fill="#f8bbd0"/>
<rect x="1169.00" y="524.2" width="1" height="14.3" fill="#ef6f7c"/>
<rect x="1165.30" y="518.3" width="8.4" height="5.9" fill="#ef6f7c"/>
<rect x="1166.30" y="519.3" width="6.4" height="3.9" fill="#f8bbd0"/>
<rect x="1179.00" y="506.3" width="1" height="1.1" fill="#26a69a"/>
<rect x="1175.30" y="507.4" width="8.4" height="17.2" fill="#26a69a"/>
<rect x="1176.30" y="508.4" width="6.4" height="15.2" fill="#92939e"/>
<rect x="1189.00" y="483.2" width="1" height="1.4" fill="#26a69a"/>
<rect x="1185.30" y="484.6" width="8.4" height="22.8" fill="#26a69a"/>
<rect x="1186.30" y="485.6" width="6.4" height="20.8" fill="#92939e"/>
<rect x="1199.00" y="467.0" width="1" height="1.4" fill="#26a69a"/>
<rect x="1199.00" y="484.6" width="1" height="9.1" fill="#26a69a"/>
<rect x="1195.30" y="468.4" width="8.4" height="16.2" fill="#26a69a"/>
<rect x="1196.30" y="469.4" width="6.4" height="14.2" fill="#92939e"/>
<rect x="1209.00" y="450.5" width="1" height="17.9" fill="#ef6f7c"/>
<rect x="1209.00" y="482.7" width="1" height="7.8" fill="#ef6f7c"/>
<rect x="1205.30" y="468.4" width="8.4" height="14.3" fill="#ef6f7c"/>
<rect x="1206.30" y="469.4" width="6.4" height="12.3" fill="#f8bbd0"/>
<rect x="1219.00" y="479.6" width="1" height="3.6" fill="#ef6f7c"/>
<rect x="1219.00" y="528.4" width="1" height="7.4" fill="#ef6f7c"/>
<rect x="1215.30" y="483.2" width="8.4" height="45.2" fill="#ef6f7c"/>
<rect x="1216.30" y="484.2" width="6.4" height="43.2" fill="#f8bbd0"/>
<rect x="1229.00" y="509.5" width="1" height="1.5" fill="#26a69a"/>
<rect x="1229.00" y="528.4" width="1" height="10.6" fill="#26a69a"/>
<rect x="1225.30" y="511.0" width="8.4" height="17.4" fill="#26a69a"/>
<rect x="1226.30" y="512.0" width="6.4" height="15.4" fill="#92939e"/>
<rect x="1239.00" y="492.6" width="1" height="1.7" fill="#26a69a"/>
<rect x="1239.00" y="510.5" width="1" height="4.2" fill="#26a69a"/>
<rect x="1235.30" y="494.3" width="8.4" height="16.2" fill="#26a69a"/>
<rect x="1236.30" y="495.3" width="6.4" height="14.2" fill="#92939e"/>
<rect x="1249.00" y="492.6" width="1" height="1.7" fill="#ef6f7c"/>
<rect x="1249.00" y="501.7" width="1" height="4.6" fill="#ef6f7c"/>
<rect x="1245.30" y="494.3" width="8.4" height="7.4" fill="#ef6f7c"/>
<rect x="1246.30" y="495.3" width="6.4" height="5.4" fill="#f8bbd0"/>
<rect x="1259.00" y="496.0" width="1" height="5.7" fill="#ef6f7c"/>
<rect x="1259.00" y="514.4" width="1" height="3.9" fill="#ef6f7c"/>
<rect x="1255.30" y="501.7" width="8.4" height="12.7" fill="#ef6f7c"/>
<rect x="1256.30" y="502.7" width="6.4" height="10.7" fill="#f8bbd0"/>
<rect x="1269.00" y="517.8" width="1" height="13.9" fill="#ef6f7c"/>
<rect x="1265.30" y="514.6" width="8.4" height="3.2" fill="#ef6f7c"/>
<rect x="1266.30" y="515.6" width="6.4" height="1.2" fill="#f8bbd0"/>
<rect x="1278.00" y="510.3" width="1" height="6.0" fill="#26a69a"/>
<rect x="1278.00" y="518.3" width="1" height="6.6" fill="#26a69a"/>
<rect x="1274.30" y="516.3" width="8.4" height="2.0" fill="#26a69a"/>
<rect x="1288.00" y="511.5" width="1" height="5.8" fill="#ef6f7c"/>
<rect x="1284.30" y="517.3" width="8.4" height="21.2" fill="#ef6f7c"/>
<rect x="1285.30" y="518.3" width="6.4" height="19.2" fill="#f8bbd0"/>
<rect x="1298.00" y="524.1" width="1" height="7.1" fill="#26a69a"/>
<rect x="1298.00" y="538.5" width="1" height="4.1" fill="#26a69a"/>
<rect x="1294.30" y="531.2" width="8.4" height="7.3" fill="#26a69a"/>
<rect x="1295.30" y="532.2" width="6.4" height="5.3" fill="#92939e"/>
<rect x="1308.00" y="524.1" width="1" height="7.1" fill="#ef6f7c"/>
<rect x="1308.00" y="538.8" width="1" height="2.5" fill="#ef6f7c"/>
<rect x="1304.30" y="531.2" width="8.4" height="7.6" fill="#ef6f7c"/>
<rect x="1305.30" y="532.2" width="6.4" height="5.6" fill="#f8bbd0"/>
<rect x="1318.00" y="534.2" width="1" height="4.3" fill="#ef6f7c"/>
<rect x="1318.00" y="553.7" width="1" height="1.5" fill="#ef6f7c"/>
<rect x="1314.30" y="538.5" width="8.4" height="15.2" fill="#ef6f7c"/>
<rect x="1315.30" y="539.5" width="6.4" height="13.2" fill="#f8bbd0"/>
<rect x="1328.00" y="541.8" width="1" height="4.3" fill="#26a69a"/>
<rect x="1328.00" y="553.7" width="1" height="9.5" fill="#26a69a"/>
<rect x="1324.30" y="546.1" width="8.4" height="7.6" fill="#26a69a"/>
<rect x="1325.30" y="547.1" width="6.4" height="5.6" fill="#92939e"/>
<rect x="1338.00" y="527.4" width="1" height="11.1" fill="#26a69a"/>
<rect x="1334.30" y="538.5" width="8.4" height="7.6" fill="#26a69a"/>
<rect x="1335.30" y="539.5" width="6.4" height="5.6" fill="#92939e"/>
<rect x="1348.00" y="574.6" width="1" height="16.4" fill="#ef6f7c"/>
<rect x="1344.30" y="538.5" width="8.4" height="36.1" fill="#ef6f7c"/>
<rect x="1345.30" y="539.5" width="6.4" height="34.1" fill="#f8bbd0"/>
<rect x="1354.30" y="574.6" width="8.4" height="56.8" fill="#ef6f7c"/>
<rect x="1355.30" y="575.6" width="6.4" height="54.8" fill="#f8bbd0"/>
<rect x="1368.00" y="613.2" width="1" height="1.1" fill="#26a69a"/>
<rect x="1368.00" y="631.4" width="1" height="12.2" fill="#26a69a"/>
<rect x="1364.30" y="614.3" width="8.4" height="17.1" fill="#26a69a"/>
<rect x="1365.30" y="615.3" width="6.4" height="15.1" fill="#92939e"/>
<rect x="1378.00" y="607.0" width="1" height="7.3" fill="#ef6f7c"/>
<rect x="1378.00" y="628.7" width="1" height="0.9" fill="#ef6f7c"/>
<rect x="1374.30" y="614.3" width="8.4" height="14.4" fill="#ef6f7c"/>
<rect x="1375.30" y="615.3" width="6.4" height="12.4" fill="#f8bbd0"/>
<rect x="1388.00" y="617.0" width="1" height="9.3" fill="#26a69a"/>
<rect x="1388.00" y="628.5" width="1" height="7.8" fill="#26a69a"/>
<rect x="1384.30" y="626.3" width="8.4" height="2.2" fill="#26a69a"/>
<rect x="1385.30" y="627.3" width="6.4" height="0.2" fill="#92939e"/>
<rect x="1398.00" y="598.9" width="1" height="9.5" fill="#26a69a"/>
<rect x="1394.30" y="608.4" width="8.4" height="17.9" fill="#26a69a"/>
<rect x="1395.30" y="609.4" width="6.4" height="15.9" fill="#92939e"/>
<rect x="1408.00" y="602.2" width="1" height="1.3" fill="#26a69a"/>
<rect x="1408.00" y="608.4" width="1" height="11.6" fill="#26a69a"/>
<rect x="1404.30" y="603.5" width="8.4" height="4.9" fill="#26a69a"/>
<rect x="1405.30" y="604.5" width="6.4" height="2.9" fill="#92939e"/>
<rect x="1418.00" y="575.4" width="1" height="13.0" fill="#26a69a"/>
<rect x="1418.00" y="603.5" width="1" height="32.9" fill="#26a69a"/>
<rect x="1414.30" y="588.4" width="8.4" height="15.1" fill="#26a69a"/>
<rect x="1415.30" y="589.4" width="6.4" height="13.1" fill="#92939e"/>
<rect x="1428.00" y="570.5" width="1" height="17.9" fill="#ef6f7c"/>
<rect x="1428.00" y="627.8" width="1" height="17.4" fill="#ef6f7c"/>
<rect x="1424.30" y="588.4" width="8.4" height="39.4" fill="#ef6f7c"/>
<rect x="1425.30" y="589.4" width="6.4" height="37.4" fill="#f8bbd0"/>
<rect x="1438.00" y="592.0" width="1" height="6.9" fill="#26a69a"/>
<rect x="1438.00" y="627.8" width="1" height="9.0" fill="#26a69a"/>
<rect x="1434.30" y="598.9" width="8.4" height="28.9" fill="#26a69a"/>
<rect x="1435.30" y="599.9" width="6.4" height="26.9" fill="#92939e"/>
<rect x="1448.00" y="583.2" width="1" height="14.7" fill="#26a69a"/>
<rect x="1448.00" y="599.9" width="1" height="2.8" fill="#26a69a"/>
<rect x="1444.30" y="597.9" width="8.4" height="2.0" fill="#26a69a"/>
<rect x="1457.00" y="580.0" width="1" height="2.1" fill="#26a69a"/>
<rect x="1457.00" y="598.9" width="1" height="6.4" fill="#26a69a"/>
<rect x="1453.30" y="582.1" width="8.4" height="16.8" fill="#26a69a"/>
<rect x="1454.30" y="583.1" width="6.4" height="14.8" fill="#92939e"/>
<rect x="1467.00" y="554.7" width="1" height="12.7" fill="#26a69a"/>
<rect x="1463.30" y="567.4" width="8.4" height="14.7" fill="#26a69a"/>
<rect x="1464.30" y="568.4" width="6.4" height="12.7" fill="#92939e"/>
<rect x="1477.00" y="567.4" width="1" height="8.4" fill="#26a69a"/>
<rect x="1473.30" y="535.4" width="8.4" height="32.0" fill="#26a69a"/>
<rect x="1474.30" y="536.4" width="6.4" height="30.0" fill="#92939e"/>
<rect x="1487.00" y="526.3" width="1" height="4.9" fill="#26a69a"/>
<rect x="1487.00" y="535.4" width="1" height="16.2" fill="#26a69a"/>
<rect x="1483.30" y="531.2" width="8.4" height="4.2" fill="#26a69a"/>
<rect x="1484.30" y="532.2" width="6.4" height="2.2" fill="#92939e"/>
<rect x="1497.00" y="502.2" width="1" height="15.1" fill="#26a69a"/>
<rect x="1493.30" y="517.3" width="8.4" height="13.7" fill="#26a69a"/>
<rect x="1494.30" y="518.3" width="6.4" height="11.7" fill="#92939e"/>
<rect x="1507.00" y="516.8" width="1" height="10.1" fill="#26a69a"/>
<rect x="1503.30" y="491.7" width="8.4" height="25.1" fill="#26a69a"/>
<rect x="1504.30" y="492.7" width="6.4" height="23.1" fill="#92939e"/>
<rect x="1517.00" y="450.0" width="1" height="10.3" fill="#26a69a"/>
<rect x="1513.30" y="460.3" width="8.4" height="31.2" fill="#26a69a"/>
<rect x="1514.30" y="461.3" width="6.4" height="29.2" fill="#92939e"/>
<rect x="1527.00" y="449.1" width="1" height="11.2" fill="#ef6f7c"/>
<rect x="1523.30" y="460.3" width="8.4" height="20.6" fill="#ef6f7c"/>
<rect x="1524.30" y="461.3" width="6.4" height="18.6" fill="#f8bbd0"/>
<rect x="1537.00" y="461.9" width="1" height="17.6" fill="#26a69a"/>
<rect x="1537.00" y="481.5" width="1" height="8.4" fill="#26a69a"/>
<rect x="1533.30" y="479.5" width="8.4" height="2.0" fill="#26a69a"/>
<rect x="1547.00" y="461.9" width="1" height="3.8" fill="#26a69a"/>
<rect x="1547.00" y="480.3" width="1" height="18.1" fill="#26a69a"/>
<rect x="1543.30" y="465.7" width="8.4" height="14.6" fill="#26a69a"/>
<rect x="1544.30" y="466.7" width="6.4" height="12.6" fill="#92939e"/>
<rect x="1557.00" y="419.3" width="1" height="17.9" fill="#26a69a"/>
<rect x="1553.30" y="437.2" width="8.4" height="28.5" fill="#26a69a"/>
<rect x="1554.30" y="438.2" width="6.4" height="26.5" fill="#92939e"/>
<rect x="1567.00" y="393.5" width="1" height="15.0" fill="#26a69a"/>
<rect x="1563.30" y="408.5" width="8.4" height="28.3" fill="#26a69a"/>
<rect x="1564.30" y="409.5" width="6.4" height="26.3" fill="#92939e"/>
<rect x="1577.00" y="424.4" width="1" height="9.0" fill="#ef6f7c"/>
<rect x="1573.30" y="408.0" width="8.4" height="16.4" fill="#ef6f7c"/>
<rect x="1574.30" y="409.0" width="6.4" height="14.4" fill="#f8bbd0"/>
<rect x="1583.30" y="424.4" width="8.4" height="40.4" fill="#ef6f7c"/>
<rect x="1584.30" y="425.4" width="6.4" height="38.4" fill="#f8bbd0"/>
<rect x="1597.00" y="463.4" width="1" height="1.4" fill="#ef6f7c"/>
<rect x="1597.00" y="491.5" width="1" height="14.1" fill="#ef6f7c"/>
<rect x="1593.30" y="464.8" width="8.4" height="26.7" fill="#ef6f7c"/>
<rect x="1594.30" y="465.8" width="6.4" height="24.7" fill="#f8bbd0"/>
<rect x="670" y="480" width="267" height="1" fill="#3d44c8"/>
<rect x="668" y="569" width="453" height="1" fill="#3d44c8"/>
<rect x="666" y="651" width="786" height="1" fill="#3d44c8"/>
<rect x="1038" y="448" width="194" height="1" fill="#3d44c8"/>
<line x1="885.8" y1="495.3" x2="931.7" y2="467.3" stroke="#3d44c8" stroke-width="2.7" stroke-linecap="butt"/>
<line x1="1042.4" y1="589" x2="1093.5" y2="570.5" stroke="#3d44c8" stroke-width="2.7" stroke-linecap="butt"/>
<line x1="1210.6" y1="457.2" x2="1254" y2="423.1" stroke="#3d44c8" stroke-width="2.7" stroke-linecap="butt"/>
<line x1="1321.8" y1="657.9" x2="1359.1" y2="630.9" stroke="#3d44c8" stroke-width="2.7" stroke-linecap="butt"/>
<path d="M916.5,278.5 L926.5,278.5 L926.5,314.5 L931.5,314.5 L921.5,351 L911.5,314.5 L916.5,314.5 Z" fill="#fff" stroke="#000" stroke-width="1.3" stroke-linejoin="miter"/>
<path d="M1054.5,351.5 L1065.5,351.5 L1065.5,388.5 L1071.5,388.5 L1060,424.5 L1049.5,388.5 L1054.5,388.5 Z" fill="#fff" stroke="#000" stroke-width="1.3" stroke-linejoin="miter"/>
<path d="M1214.5,406.5 L1223.5,406.5 L1223.5,440.5 L1229,440.5 L1219,474 L1209,440.5 L1214.5,440.5 Z" fill="#fff" stroke="#000" stroke-width="1.3" stroke-linejoin="miter"/>
<rect x="1604" y="1" width="1" height="709" fill="#50535e"/>
<rect x="0" y="679" width="1671" height="1" fill="#50535e"/>
</svg>
<div class="pl" style="top:49.5px">1.10850</div><div class="pl" style="top:85.3px">1.10800</div><div class="pl" style="top:121.1px">1.10750</div><div class="pl" style="top:156.9px">1.10700</div><div class="pl" style="top:192.7px">1.10650</div><div class="pl" style="top:228.5px">1.10600</div><div class="pl" style="top:264.3px">1.10550</div><div class="pl" style="top:300.1px">1.10500</div><div class="pl" style="top:335.9px">1.10450</div><div class="pl" style="top:371.7px">1.10400</div><div class="pl" style="top:407.5px">1.10350</div><div class="pl" style="top:443.3px">1.10300</div><div class="pl" style="top:479.1px">1.10250</div><div class="pl" style="top:550.7px">1.10150</div><div class="pl" style="top:586.5px">1.10100</div><div class="pl" style="top:622.3px">1.10050</div><div class="pl" style="top:658.1px">1.10000</div><div class="tl b" style="left:26.1px">14:00</div><div class="tl" style="left:125.6px">14:10</div><div class="tl" style="left:225.0px">14:20</div><div class="tl" style="left:324.5px">14:30</div><div class="tl" style="left:423.9px">14:40</div><div class="tl" style="left:523.4px">14:50</div><div class="tl b" style="left:622.9px">15:00</div><div class="tl" style="left:722.3px">15:10</div><div class="tl" style="left:821.8px">15:20</div><div class="tl" style="left:921.2px">15:30</div><div class="tl" style="left:1020.7px">15:40</div><div class="tl" style="left:1120.2px">15:50</div><div class="tl b" style="left:1219.6px">16:00</div><div class="tl" style="left:1319.1px">16:10</div><div class="tl" style="left:1418.5px">16:20</div><div class="tl" style="left:1518.0px">16:30</div>
<div class="hdr t" style="left:8.6px;">Euro</div><div class="hdr t" style="left:52.2px;">/</div><div class="hdr t" style="left:65.5px;">Dollar</div><div class="hdr t" style="left:118.2px;">Américain</div><div class="hdr t" style="left:201.8px;font-weight:bold;">·</div><div class="hdr t" style="left:211.4px;">1</div><div class="hdr t" style="left:224.8px;font-weight:bold;">·</div><div class="hdr t" style="left:234.6px;transform:scaleX(0.86);transform-origin:0 0;">FXCM</div>
<svg width="30" height="30" style="left:290px;top:4px;position:absolute"><circle cx="15" cy="14.9" r="9.9" fill="#d8f0eb"/><circle cx="15" cy="14.9" r="5.8" fill="#e3f4f1"/><circle cx="15" cy="14.9" r="4.5" fill="#089981"/></svg>
<div class="hdr" style="left:333px;top:13px;font-size:14px;line-height:16px;color:#4a4e58;">O</div>
<div class="hdr" style="left:344px;top:13px;font-size:14px;line-height:16px;color:#22a295;">1.10196</div>
<div class="hdr" style="left:402.5px;top:13px;font-size:14px;line-height:16px;color:#4a4e58;">H</div>
<div class="hdr" style="left:413px;top:13px;font-size:14px;line-height:16px;color:#22a295;">1.10196</div>
<div class="hdr" style="left:470.5px;top:13px;font-size:14px;line-height:16px;color:#4a4e58;">B</div>
<div class="hdr" style="left:480.5px;top:13px;font-size:14px;line-height:16px;color:#22a295;">1.10196</div>
<div class="hdr" style="left:538.5px;top:13px;font-size:14px;line-height:16px;color:#4a4e58;">C</div>
<div class="hdr" style="left:548.5px;top:13px;font-size:14px;line-height:16px;color:#22a295;">1.10196</div>
<div class="hdr" style="left:606.5px;top:13px;font-size:14px;line-height:16px;color:#22a295;">0.00000 (0.00%)</div>
<div class="hdr" style="left:1615px;top:8px;font-size:14.5px;line-height:16px;color:#3c404a;transform:scaleX(0.74);transform-origin:0 0;">USD</div>
<svg width="10" height="8" style="position:absolute;left:1640px;top:11px"><path d="M1.5,2.8 L4.2,5.5 L6.9,2.8" fill="none" stroke="#50535e" stroke-width="1.3"/></svg>
<div style="position:absolute;left:1604px;top:482px;width:63px;height:19px;box-sizing:border-box;border:1px solid #f9c6d4;border-radius:0 2px 2px 0;background:#fff;"></div>
<div class="hdr" style="left:1613px;top:484.5px;font-size:13px;line-height:16px;color:#f4a7bf;">1.10243</div>
<div style="position:absolute;left:1604px;top:516px;width:63px;height:35px;background:#8d8f98;border-radius:0 3px 3px 0;"></div>
<div class="hdr" style="left:1613px;top:518px;font-size:13.5px;line-height:16px;color:#131722;">1.10196</div>
<div class="hdr" style="left:1613px;top:534px;font-size:13.5px;line-height:16px;color:#131722;">00:40</div>
<svg width="24" height="24" style="position:absolute;left:1625px;top:682.3px" viewBox="0 0 24 24"><ellipse cx="12" cy="12" rx="5.5" ry="5.9" fill="none" stroke="#2a2e39" stroke-width="1.3"/><g stroke="#2a2e39" stroke-width="1.4"><line x1="12" y1="4" x2="12" y2="6.5"/><line x1="12" y1="17.5" x2="12" y2="20"/><line x1="4" y1="12" x2="6.5" y2="12"/><line x1="17.5" y1="12" x2="20" y2="12"/><line x1="6.3" y1="6.3" x2="8" y2="8"/><line x1="16" y1="16" x2="17.7" y2="17.7"/><line x1="6.3" y1="17.7" x2="8" y2="16"/><line x1="16" y1="8" x2="17.7" y2="6.3"/></g></svg>
</body></html>
